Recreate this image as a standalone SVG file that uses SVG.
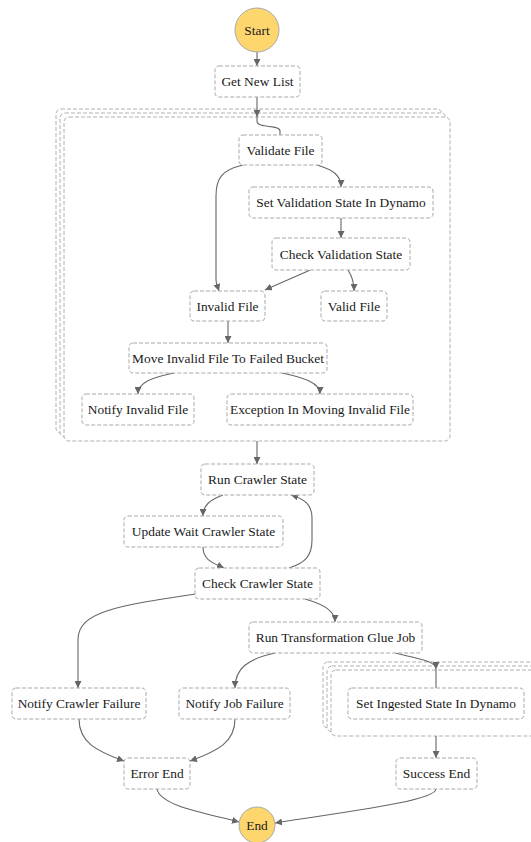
<svg xmlns="http://www.w3.org/2000/svg" width="531" height="842" viewBox="0 0 531 842">
<defs>
<marker id="arr" viewBox="0 0 10 10" refX="10" refY="5" markerWidth="7" markerHeight="7" markerUnits="userSpaceOnUse" orient="auto">
<path d="M0,0 L10,5 L0,10 z" fill="#666"/>
</marker>
<style>
.n rect{fill:#fff;stroke:#a9a9a9;stroke-width:1;stroke-dasharray:4 2}
.m{fill:#fff;stroke:#b0b0b0;stroke-width:1;stroke-dasharray:4 2}
.c{fill:#fdd76e;stroke:#a8a8a8;stroke-width:1}
text{font-family:"Liberation Serif","Times New Roman",serif;font-size:13.4px;fill:#1a1a1a;text-anchor:middle}
.e path{fill:none;stroke:#666;stroke-width:1.1}
.e .a{marker-end:url(#arr)}
</style>
</defs>
<rect width="531" height="842" fill="#fff"/>
<g id="map1">
<rect class="m" x="56" y="109" width="386" height="324" rx="5"/>
<rect class="m" x="60" y="113" width="386" height="324" rx="5"/>
<rect class="m" x="64" y="117" width="386" height="324" rx="5"/>
</g>
<g id="map2">
<rect class="m" x="323" y="662" width="220" height="66" rx="5"/>
<rect class="m" x="327" y="666" width="220" height="66" rx="5"/>
<rect class="m" x="331" y="670" width="220" height="66" rx="5"/>
</g>
<g id="edges" class="e">
<path class="a" d="M257,52 L257,66"/>
<path class="a" d="M257,97 L257,117"/>
<path d="M257,117 L257,121 C257,129 280,124 280,131 L280,135"/>
<path class="a" d="M243,165 C222,170 216,178 216,196 L216,280 C216,285 218,288 219,291"/>
<path class="a" d="M317,165 C334,170 341,176 341,187"/>
<path class="a" d="M341,218 L341,238"/>
<path class="a" d="M310,270 C295,277 280,283 265,290"/>
<path class="a" d="M348,270 C352,276 354,282 354,291"/>
<path class="a" d="M228,321 L228,343"/>
<path class="a" d="M174,373 C150,378 138,383 138,394"/>
<path class="a" d="M282,373 C305,378 320,383 320,394"/>
<path class="a" d="M257,441 L257,464"/>
<path class="a" d="M223,495 C210,500 203,505 203,516"/>
<path class="a" d="M203,547 C203,560 213,563 224,568"/>
<path class="a" d="M289,568 C305,563 312,556 312,540 L312,518 C312,505 305,499 291,495"/>
<path class="a" d="M196,594 C115,606 78,612 78,640 L78,688"/>
<path class="a" d="M305,599 C322,604 335,610 335,622"/>
<path class="a" d="M275,653 C248,659 235,668 235,688"/>
<path class="a" d="M395,653 C425,660 436,662 436,669"/>
<path d="M436,669 L436,688"/>
<path class="a" d="M436,736 L436,758"/>
<path class="a" d="M79,719 C79,742 96,751 124,761"/>
<path class="a" d="M235,719 C235,742 218,751 190,761"/>
<path class="a" d="M157,789 C160,805 200,812 239,822"/>
<path class="a" d="M436,789 C436,800 360,810 275,823"/>
</g>
<g id="start"><circle class="c" cx="257" cy="30" r="22"/><text x="257" y="34.5">Start</text></g>
<g id="get-new-list" class="n"><rect x="215" y="66" width="85" height="31" rx="4"/><text x="257.5" y="86">Get New List</text></g>
<g id="validate-file" class="n"><rect x="239" y="135" width="83" height="30" rx="4"/><text x="280.5" y="154.5">Validate File</text></g>
<g id="set-validation-state" class="n"><rect x="249" y="187" width="184" height="31" rx="4"/><text x="341" y="207">Set Validation State In Dynamo</text></g>
<g id="check-validation-state" class="n"><rect x="272" y="238" width="138" height="32" rx="4"/><text x="341" y="258.5">Check Validation State</text></g>
<g id="invalid-file" class="n"><rect x="190" y="291" width="75" height="30" rx="4"/><text x="227.5" y="310.5">Invalid File</text></g>
<g id="valid-file" class="n"><rect x="321" y="291" width="66" height="30" rx="4"/><text x="354" y="310.5">Valid File</text></g>
<g id="move-invalid-file" class="n"><rect x="129" y="343" width="198" height="30" rx="4"/><text x="228" y="362.5">Move Invalid File To Failed Bucket</text></g>
<g id="notify-invalid-file" class="n"><rect x="82" y="394" width="112" height="31" rx="4"/><text x="138" y="414">Notify Invalid File</text></g>
<g id="exception-moving" class="n"><rect x="227" y="394" width="186" height="31" rx="4"/><text x="320" y="414">Exception In Moving Invalid File</text></g>
<g id="run-crawler-state" class="n"><rect x="201" y="464" width="113" height="31" rx="4"/><text x="257.5" y="484">Run Crawler State</text></g>
<g id="update-wait-crawler-state" class="n"><rect x="124" y="516" width="159" height="31" rx="4"/><text x="203.5" y="536">Update Wait Crawler State</text></g>
<g id="check-crawler-state" class="n"><rect x="195" y="568" width="125" height="31" rx="4"/><text x="257.5" y="588">Check Crawler State</text></g>
<g id="run-transformation-glue-job" class="n"><rect x="249" y="622" width="173" height="31" rx="4"/><text x="335.5" y="642">Run Transformation Glue Job</text></g>
<g id="notify-crawler-failure" class="n"><rect x="12" y="688" width="134" height="31" rx="4"/><text x="79" y="708">Notify Crawler Failure</text></g>
<g id="notify-job-failure" class="n"><rect x="179" y="688" width="111" height="31" rx="4"/><text x="234.5" y="708">Notify Job Failure</text></g>
<g id="set-ingested-state" class="n"><rect x="348" y="688" width="176" height="31" rx="4"/><text x="436" y="708">Set Ingested State In Dynamo</text></g>
<g id="error-end" class="n"><rect x="124" y="758" width="66" height="31" rx="4"/><text x="157" y="778">Error End</text></g>
<g id="success-end" class="n"><rect x="396" y="758" width="81" height="31" rx="4"/><text x="436.5" y="778">Success End</text></g>
<g id="end"><circle class="c" cx="257" cy="825" r="18"/><text x="257" y="829.5">End</text></g>
</svg>
